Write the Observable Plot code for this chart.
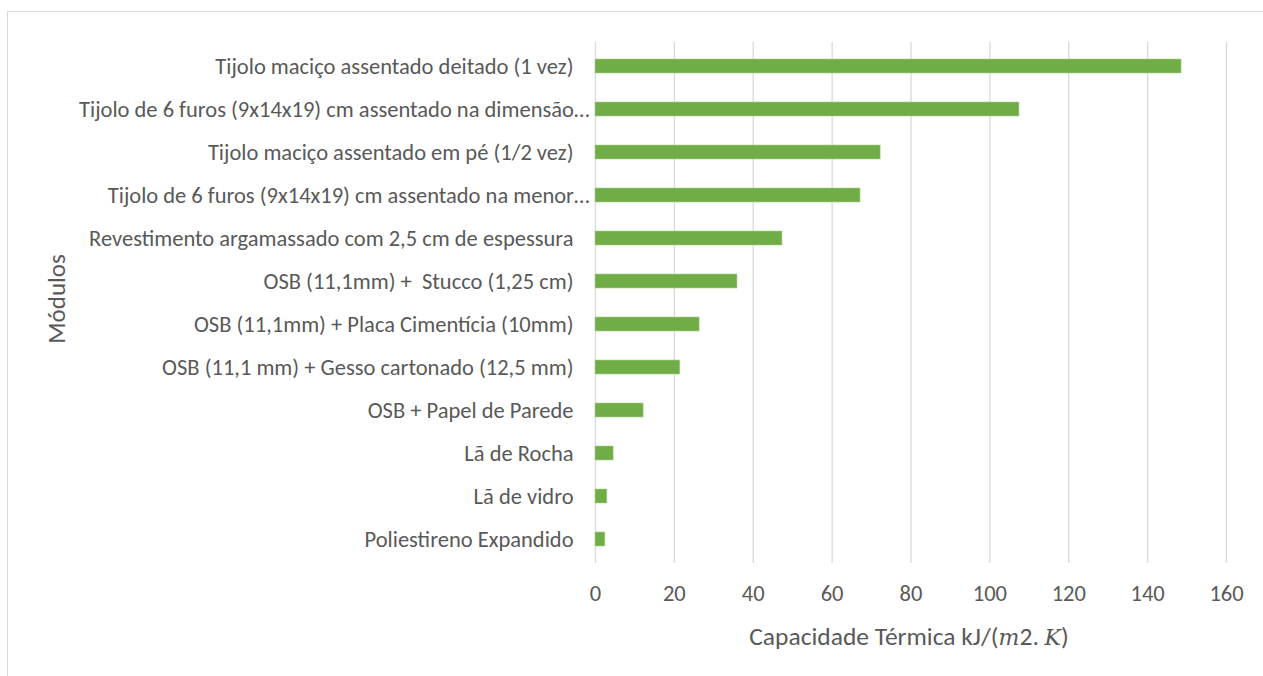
<!DOCTYPE html>
<html>
<head>
<meta charset="utf-8">
<script src="https://cdn.jsdelivr.net/npm/d3@7"></script>
<script src="https://cdn.jsdelivr.net/npm/@observablehq/plot@0.6"></script>
<style>
  html, body { margin: 0; padding: 0; background: #fff; }
  #wrap { position: relative; width: 1263px; height: 676px; overflow: hidden;
    font-family: Carlito, Lato, sans-serif; }
  #frame { position: absolute; left: 7px; top: 11px; width: 1300px; height: 700px;
    border: 1.5px solid #d9d9d9; box-sizing: border-box; }
  #ylabel { position: absolute; left: 56px; top: 299px; transform: translate(-50%, -50%) rotate(-90deg);
    font-size: 25px; color: #595959; white-space: nowrap; }
  #xlabel { position: absolute; left: 909px; top: 636px; transform: translate(-50%, -50%);
    font-size: 25.5px; color: #595959; white-space: nowrap; }
  #xlabel i { font-family: "DejaVu Serif", serif; font-size: 22px; }
  #chart { position: absolute; left: 0; top: 0; }
</style>
</head>
<body>
<div id="wrap">
  <div id="frame"></div>
  <div id="chart"></div>
  <div id="ylabel">Módulos</div>
  <div id="xlabel">Capacidade Térmica kJ/(<i>m</i>2. <i>K</i>)</div>
</div>
<script>
const categories = [
  "Tijolo maciço assentado deitado (1 vez)",
  "Tijolo de 6 furos (9x14x19) cm assentado na dimensão…",
  "Tijolo maciço assentado em pé (1/2 vez)",
  "Tijolo de 6 furos (9x14x19) cm assentado na menor…",
  "Revestimento argamassado com 2,5 cm de espessura",
  "OSB (11,1mm) +  Stucco (1,25 cm)",
  "OSB (11,1mm) + Placa Cimentícia (10mm)",
  "OSB (11,1 mm) + Gesso cartonado (12,5 mm)",
  "OSB + Papel de Parede",
  "Lã de Rocha",
  "Lã de vidro",
  "Poliestireno Expandido"
];
const values = [148.6, 107.5, 72.3, 67.2, 47.4, 36.0, 26.4, 21.5, 12.2, 4.6, 3.0, 2.5];
const xTicks = [0, 20, 40, 60, 80, 100, 120, 140, 160];

const data = categories.map((c, i) => ({module: c, value: values[i]}));
const truncated = categories.filter(c => c.endsWith("…"));
const full = categories.filter(c => !c.endsWith("…"));

const chart = Plot.plot({
  width: 1263,
  height: 676,
  marginLeft: 595,
  marginRight: 37,
  marginTop: 42,
  marginBottom: 113,
  style: {fontFamily: 'Carlito, Lato, sans-serif', fontSize: "22.5px", color: "#595959", background: "transparent"},
  x: {domain: [0, 160], ticks: xTicks},
  y: {domain: categories, paddingInner: 0.68, paddingOuter: 0.34},
  marks: [
    Plot.ruleX(xTicks.slice(1), {stroke: "#d9d9d9", strokeWidth: 1.3, strokeOpacity: 1}),
    Plot.ruleX([0], {stroke: "#d9d9d9", strokeWidth: 1.3}),
    Plot.barX(data, {y: "module", x: "value", fill: "#70ad47", stroke: "#a9d18e", strokeWidth: 0.6}),
    Plot.axisX({ticks: xTicks, tickSize: 0, tickPadding: 22, label: null, fill: "#595959"}),
    Plot.axisY({ticks: full, tickSize: 0, tickPadding: 22, label: null, fill: "#595959"}),
    Plot.axisY({ticks: truncated, tickSize: 0, tickPadding: 6, label: null, fill: "#595959"})
  ]
});
document.getElementById("chart").appendChild(chart);
</script>
</body>
</html>
